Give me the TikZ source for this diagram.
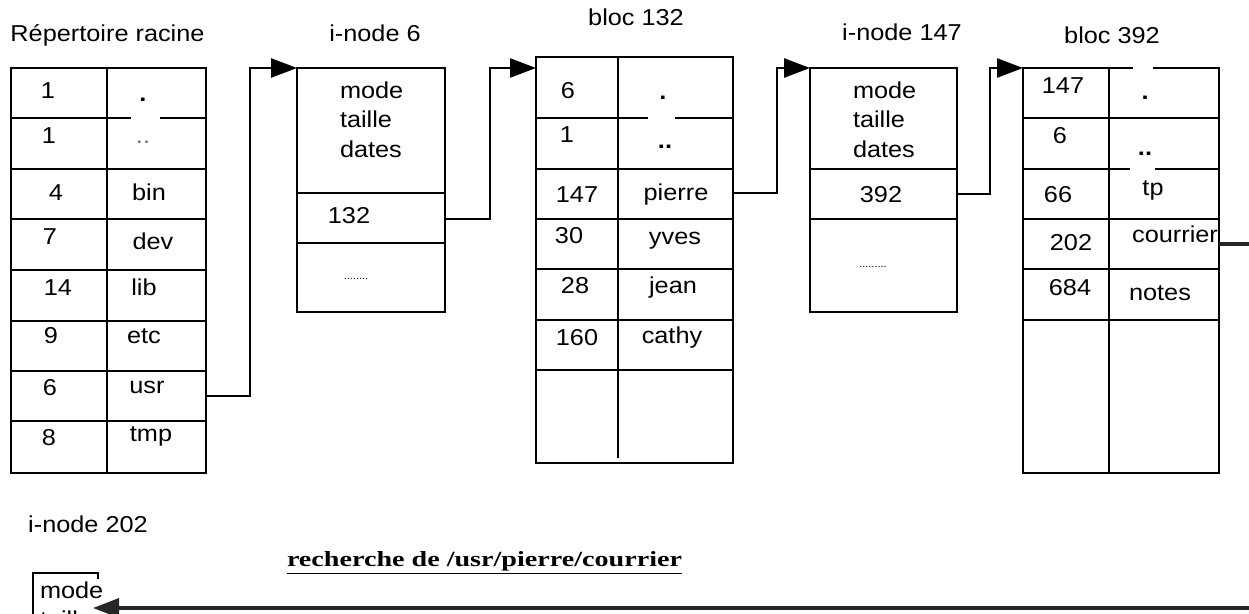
\documentclass[tikz,border=0pt]{standalone}
\usepackage{fontspec}
\setmainfont{Liberation Sans}
\newfontfamily\cellfont{Liberation Sans}[FakeStretch=1.1]
\newfontfamily\searchfont{Liberation Serif}
\usetikzlibrary{arrows.meta}
\begin{document}
\begin{tikzpicture}[x=1pt,y=-1pt,
  box/.style={draw, line width=1.6pt, inner sep=0pt, outer sep=0pt},
  tline/.style={line width=1.6pt},
  txt/.style={anchor=base, inner sep=0pt, outer sep=0pt, font=\cellfont\fontsize{23}{27}\selectfont},
  ttl/.style={txt},
  ltxt/.style={txt, anchor=base west},
  dots/.style={anchor=base, inner sep=0pt, outer sep=0pt, font=\cellfont\fontsize{10}{12}\selectfont},
  conn/.style={line width=2.6pt, -{Triangle[length=26pt,width=19pt]}},
]
\useasboundingbox (0,0) rectangle (1249,613);

% ---------------- root directory ----------------
\node[box, minimum width=195pt, minimum height=405pt] (root) at (108.5,270.5) {};
\draw[tline] (107,68) -- (107,473);
\draw[tline] (11,118) -- (131,118) (160,118) -- (206,118);
\foreach \y in {169,219,270,321,371,421} \draw[tline] (11,\y) -- (206,\y);
\node[ttl] (tRoot) at (107.5,41) {Répertoire racine};
\node[txt] (r1a) at (48,98) {1};
\node[txt] (r1b) at (143,101) {\textbf{.}};
\node[txt] (r1a2) at (49,143) {1};
\node[txt, text=black!55] (r2b) at (143,143) {..};
\node[txt] (r3a) at (56,200) {4};
\node[txt] (r3b) at (149,200) {bin};
\node[txt] (r4a) at (50,244) {7};
\node[txt] (r4b) at (153,249) {dev};
\node[txt] (r5a) at (58,295) {14};
\node[txt] (r5b) at (144,295) {lib};
\node[txt] (r6a) at (51,343) {9};
\node[txt] (r6b) at (144,343) {etc};
\node[txt] (r7a) at (50,395) {6};
\node[txt] (usr) at (147,393) {usr};
\node[txt] (r8a) at (49,445) {8};
\node[txt] (r8b) at (151,441) {tmp};

% ---------------- i-node 6 ----------------
\node[box, minimum width=148pt, minimum height=244pt] (inode6) at (371,190) {};
\draw[tline] (297,193) -- (445,193) (297,243) -- (445,243);
\node[ttl] (tI6) at (375,41) {i-node 6};
\node[ltxt] (i6m) at (340,98) {mode};
\node[ltxt] (i6t) at (340,127) {taille};
\node[ltxt] (i6d) at (340,157) {dates};
\node[txt] (n132) at (349,223) {132};
\node[dots] (i6x) at (356,279) {........};

% ---------------- bloc 132 ----------------
\node[box, minimum width=197pt, minimum height=406pt] (bloc132) at (634.5,260) {};
\draw[tline] (618,57) -- (618,458);
\draw[tline] (536,118) -- (648,118) (675,118) -- (733,118);
\foreach \y in {169,219,269,320,370} \draw[tline] (536,\y) -- (733,\y);
\node[ttl] (tB132) at (636,25) {bloc 132};
\node[txt] (b1a) at (568,98) {6};
\node[txt] (b1b) at (663,99) {\textbf{.}};
\node[txt] (b2a) at (567,142) {1};
\node[txt] (b2b) at (665,148) {\textbf{..}};
\node[txt] (b3a) at (577,202) {147};
\node[txt] (pierre) at (676,200) {pierre};
\node[txt] (b4a) at (569,243) {30};
\node[txt] (b4b) at (675,244) {yves};
\node[txt] (b5a) at (575,293) {28};
\node[txt] (b5b) at (673,293) {jean};
\node[txt] (b6a) at (577,345) {160};
\node[txt] (b6b) at (672,343) {cathy};

% ---------------- i-node 147 ----------------
\node[box, minimum width=147pt, minimum height=244pt] (inode147) at (883.5,190) {};
\draw[tline] (810,169) -- (957,169) (810,219) -- (957,219);
\node[ttl] (tI147) at (902,40) {i-node 147};
\node[ltxt] (i147m) at (853,98) {mode};
\node[ltxt] (i147t) at (853,127) {taille};
\node[ltxt] (i147d) at (853,157) {dates};
\node[txt] (n392) at (881,202) {392};
\node[dots] (i147x) at (873,267) {.........};

% ---------------- bloc 392 ----------------
\node[box, minimum width=196pt, minimum height=405pt] (bloc392) at (1121,270.5) {};
\fill[white] (1133,64) rectangle (1153,72);
\draw[tline] (1109,68) -- (1109,473);
\draw[tline] (1023,118) -- (1219,118);
\draw[tline] (1023,169) -- (1130,169) (1155,169) -- (1219,169);
\foreach \y in {219,269,320} \draw[tline] (1023,\y) -- (1219,\y);
\node[ttl] (tB392) at (1112,43) {bloc 392};
\node[txt] (c1a) at (1063,93) {147};
\node[txt] (c1b) at (1145,99) {\textbf{.}};
\node[txt] (c2a) at (1060,143) {6};
\node[txt] (c2b) at (1145,155) {\textbf{..}};
\node[txt] (c3a) at (1058,202) {66};
\node[txt] (c3b) at (1153,195) {tp};
\node[txt] (c4a) at (1071,250) {202};
\node[txt] (courrier) at (1175,242) {courrier};
\node[txt] (c5a) at (1070,295) {684};
\node[txt] (c5b) at (1160,300) {notes};

% ---------------- i-node 202 ----------------
\node[inner sep=0pt, outer sep=0pt, minimum width=65pt, minimum height=87pt] (inode202) at (65.5,616.5) {};
\draw[line width=1.2pt] (inode202.south west) -- (inode202.north west) -- (inode202.north east) -- ++(0,6);
\node[ttl] (tI202) at (88,532) {i-node 202};
\node[ltxt] (i202m) at (40,598) {mode};
\node[ltxt] (i202t) at (40,627) {taille};
\coordinate (in202) at (93,608);

\node[anchor=base, inner sep=0pt] (search) at (484.5,566)
  {\resizebox{395pt}{15pt}{\searchfont\bfseries\underline{recherche de /usr/pierre/courrier}}};

% ---------------- connectors ----------------
\coordinate (c1) at (root.east |- usr.base);
\draw[conn] ([yshift=-3pt]c1) -- ++(44,0) |- (inode6.north west);
\coordinate (c2) at (inode6.east |- n132.base);
\coordinate (b132in) at (bloc132.west |- inode6.north);
\draw[conn] ([yshift=4pt]c2) -- ++(45,0) |- (b132in);
\coordinate (c3) at (bloc132.east |- pierre.base);
\draw[conn] ([yshift=7pt]c3) -- ++(44,0) |- (inode147.north west);
\coordinate (c4) at (inode147.east |- n392.base);
\draw[conn] ([yshift=8pt]c4) -- ++(33,0) |- (bloc392.north west);
\coordinate (c5) at (bloc392.east |- courrier.base);
\draw[conn, line width=3.5pt, draw=black!85] ([yshift=-2pt]c5) -- ++(50,0) |- (in202);
\end{tikzpicture}
\end{document}
